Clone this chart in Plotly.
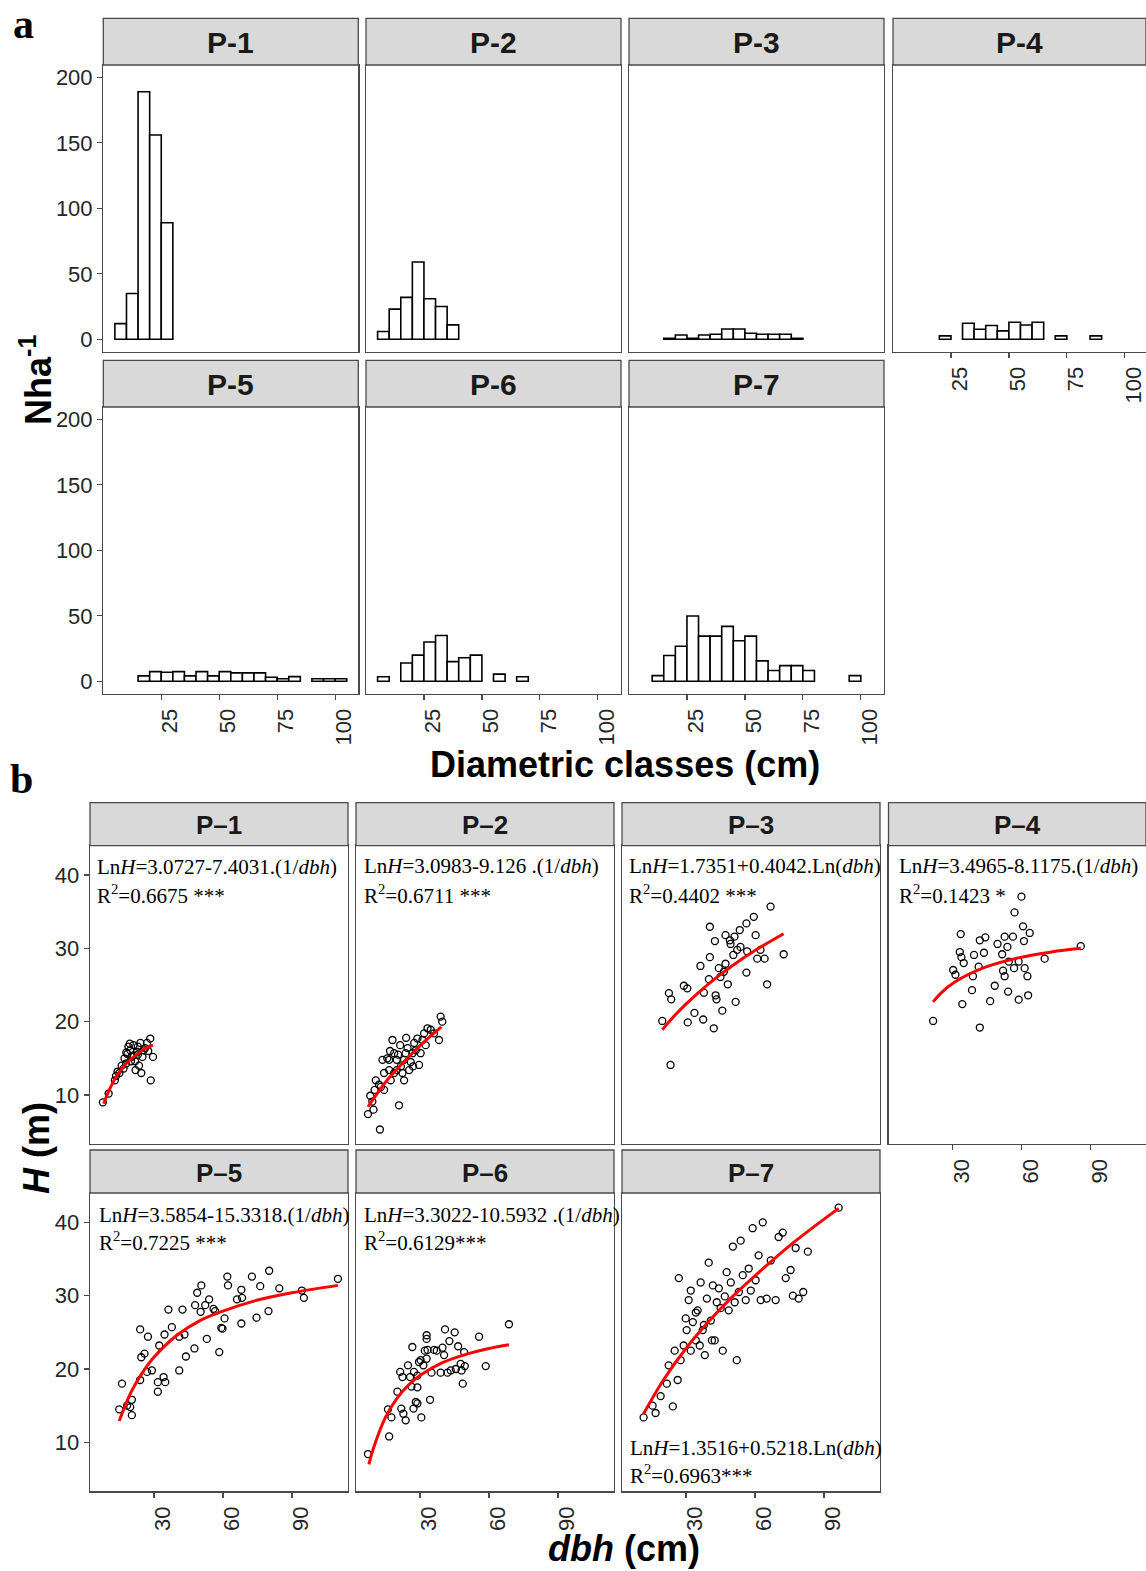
import plotly.graph_objects as go

# ---------------------------------------------------------------- data
PLOTS_A = ["P-1", "P-2", "P-3", "P-4", "P-5", "P-6", "P-7"]
PLOTS_B = ["P–1", "P–2", "P–3", "P–4", "P–5", "P–6", "P–7"]

# (a) diameter-class distribution: 5-cm class centre (cm) and trees per hectare
p1_class = [7.5, 12.5, 17.5, 22.5, 27.5]
p1_nha = [12, 35, 189, 156, 89]
p2_class = [7.5, 12.5, 17.5, 22.5, 27.5, 32.5, 37.5]
p2_nha = [6, 23, 32, 59, 31, 25, 11]
p3_class = [17.5, 22.5, 27.5, 32.5, 37.5, 42.5, 47.5, 52.5, 57.5, 62.5, 67.5, 72.5]
p3_nha = [0.8, 3.3, 0.8, 3.3, 3.8, 7.9, 7.9, 4.6, 3.8, 3.8, 3.8, 0.8]
p4_class = [22.5, 32.5, 37.5, 42.5, 47.5, 52.5, 57.5, 62.5, 72.5, 87.5]
p4_nha = [2.6, 12.3, 7.7, 10.5, 6.4, 13.0, 10.9, 13.0, 2.6, 2.6]
p5_class = [17.5, 22.5, 27.5, 32.5, 37.5, 42.5, 47.5, 52.5, 57.5, 62.5, 67.5,
            72.5, 77.5, 82.5, 92.5, 97.5, 102.5]
p5_nha = [4.1, 7.4, 6.9, 7.4, 4.1, 7.4, 4.1, 7.4, 6.4, 6.4, 6.4, 3.1, 2.0, 3.6,
          2.0, 2.0, 2.0]
p6_class = [7.5, 17.5, 22.5, 27.5, 32.5, 37.5, 42.5, 47.5, 57.5, 67.5]
p6_nha = [3.5, 14, 20, 30, 35, 15, 18, 20, 5.5, 3.5]
p7_class = [12.5, 17.5, 22.5, 27.5, 32.5, 37.5, 42.5, 47.5, 52.5, 57.5, 62.5,
            67.5, 72.5, 77.5, 97.5]
p7_nha = [4.3, 19.7, 26.8, 49.8, 34.5, 34.5, 41.9, 30.9, 34.5, 15.6, 8.2, 12,
          12, 8.2, 4.3]

# (b) height-diameter observations: dbh (cm) and H (m)
p1_dbh = [7.8, 10.3, 13.0, 13.5, 14.2, 15.0, 16.0, 16.8, 17.2, 17.9, 18.5, 18.9,
          19.5, 19.7, 20.3, 21.1, 21.1, 21.8, 22.0, 22.6, 23.0, 23.5, 24.1, 24.5,
          25.0, 25.5, 26.2, 27.0, 27.5, 28.4, 28.6, 29.6, 20.0, 23.0, 18.0]
p1_h = [9.0, 10.2, 12.0, 12.6, 13.2, 13.0, 14.0, 13.6, 15.0, 14.3, 15.6, 16.6,
        17.0, 16.1, 15.2, 15.4, 16.8, 14.6, 13.4, 15.9, 16.6, 14.0, 17.1, 13.0,
        15.2, 16.1, 16.4, 17.1, 16.0, 17.7, 12.0, 15.2, 14.6, 15.5, 15.8]
p2_dbh = [7.4, 9.8, 12.6, 8.4, 10.3, 10.8, 13.0, 13.7, 14.4, 15.8, 16.6, 17.3,
          18.05, 18.8, 19.9, 20.9, 21.4, 21.7, 22.4, 23.1, 23.8, 24.6, 25.3, 26.0,
          26.8, 27.5, 28.2, 28.9, 29.6, 30.3, 31.1, 31.8, 32.5, 33.3, 34.7, 36.1,
          38.3, 39.0, 39.7, 14.4, 18.8, 23.1, 19.9, 16.6, 12.2, 9.3, 17.0, 20.5,
          24.0, 27.0]
p2_h = [7.4, 8.0, 5.3, 9.9, 10.7, 12.0, 11.1, 14.8, 13.0, 15.0, 13.4, 12.0,
        17.5, 15.7, 14.8, 8.6, 16.8, 13.9, 13.0, 12.0, 15.7, 16.4, 13.4, 14.5,
        15.7, 17.1, 16.1, 17.7, 14.1, 15.7, 17.5, 18.4, 16.8, 19.1, 18.9, 18.4,
        17.5, 20.7, 20.0, 10.7, 13.0, 14.8, 13.4, 14.8, 11.4, 9.1, 16.0, 15.5,
        17.8, 13.9]
p3_dbh = [19.7, 23.3, 22.6, 23.6, 29.1, 30.6, 30.8, 33.7, 36.3, 37.5, 37.8, 40.0,
          40.4, 40.4, 42.1, 42.6, 42.9, 43.3, 44.3, 45.0, 45.8, 46.5, 47.2, 47.2,
          48.2, 49.1, 49.4, 50.6, 51.1, 51.6, 52.3, 53.4, 53.7, 56.3, 56.3, 56.6,
          59.5, 60.3, 61.0, 62.4, 64.2, 65.3, 66.8, 72.5]
p3_h = [20.1, 14.1, 23.9, 23.05, 24.9, 24.55, 19.9, 21.2, 27.6, 20.3, 23.95, 25.8,
        32.95, 28.8, 19.1, 31.0, 23.6, 23.05, 27.3, 26.1, 21.5, 26.8, 31.8, 27.9,
        25.1, 31.1, 30.6, 29.1, 31.6, 22.7, 29.8, 32.5, 30.2, 33.4, 26.7, 29.6,
        34.3, 31.8, 28.6, 29.8, 28.6, 25.1, 35.7, 29.2]
p4_dbh = [21.6, 30.3, 31.3, 33.6, 33.2, 33.9, 34.9, 34.3, 38.5, 38.9, 39.4, 41.4,
          41.9, 41.9, 43.7, 44.3, 46.4, 48.4, 49.6, 51.6, 52.0, 52.7, 52.7, 53.9,
          54.2, 54.5, 56.3, 57.0, 56.8, 58.8, 58.8, 60.0, 60.7, 61.1, 61.4, 62.6,
          62.9, 63.6, 70.1, 85.8]
p4_h = [20.1, 27.05, 26.4, 31.95, 29.5, 28.8, 28.0, 22.4, 24.3, 26.2, 29.1, 27.5,
        19.2, 31.1, 29.4, 31.5, 22.8, 24.9, 30.6, 29.2, 26.95, 31.6, 26.2, 30.2,
        24.1, 28.2, 31.6, 34.9, 27.3, 28.2, 23.0, 37.05, 33.0, 31.0, 27.3, 26.2,
        23.6, 32.1, 28.6, 30.3]
p5_dbh = [14.9, 16.1, 18.3, 19.7, 20.4, 20.4, 24.0, 24.0, 24.5, 25.9, 27.0, 27.4,
          29.1, 31.7, 31.7, 32.3, 34.2, 34.9, 34.6, 36.3, 37.8, 41.0, 41.0, 42.4,
          43.3, 43.9, 47.6, 47.9, 48.8, 50.3, 50.6, 52.3, 53.0, 54.0, 55.9, 56.6,
          58.4, 59.3, 59.8, 60.7, 61.9, 62.2, 66.1, 68.0, 68.3, 68.0, 72.6, 74.6,
          76.2, 79.8, 80.1, 84.5, 94.3, 95.2, 110.0]
p5_h = [14.5, 18.0, 15.0, 14.8, 15.8, 13.7, 25.4, 18.5, 21.6, 22.1, 19.6, 24.4,
        19.8, 18.2, 16.9, 23.2, 18.9, 18.2, 24.7, 28.1, 25.7, 24.4, 19.8, 28.1,
        24.7, 21.7, 22.8, 28.7, 30.4, 27.8, 31.4, 28.7, 24.1, 29.5, 28.2, 27.9,
        22.3, 25.6, 25.5, 26.9, 32.6, 31.4, 29.5, 30.8, 29.7, 26.2, 32.6, 27.0,
        31.3, 27.9, 33.4, 31.0, 30.7, 29.7, 32.3]
p6_dbh = [7.4, 16.6, 16.1, 17.6, 20.2, 21.4, 21.9, 22.8, 23.8, 24.8, 25.7, 26.7,
          27.2, 27.4, 28.2, 28.9, 28.9, 29.6, 30.3, 30.6, 31.5, 32.1, 32.9, 32.9,
          32.9, 33.3, 34.4, 35.0, 36.1, 37.3, 39.0, 39.8, 40.5, 40.9, 42.0, 42.8,
          43.4, 45.1, 45.6, 46.6, 47.7, 48.1, 48.6, 49.2, 49.5, 55.7, 58.6, 68.7,
          22.4, 28.9, 26.3]
p6_h = [8.4, 10.8, 14.5, 13.4, 16.9, 19.6, 14.6, 13.9, 13.0, 20.5, 18.9, 23.0,
        14.6, 19.6, 15.5, 17.5, 19.1, 20.95, 21.2, 13.4, 20.5, 22.5, 24.6, 24.1,
        21.4, 22.6, 15.8, 19.5, 22.6, 22.5, 19.5, 22.9, 21.9, 25.4, 19.5, 23.8,
        19.8, 25.0, 20.0, 23.1, 20.7, 19.8, 18.0, 22.3, 20.4, 24.4, 20.4, 26.1,
        18.9, 15.3, 17.6]
p7_dbh = [11.6, 16.8, 15.5, 19.0, 21.7, 22.5, 24.3, 25.1, 26.4, 26.9, 27.7, 29.0,
          29.9, 30.3, 31.2, 32.1, 32.1, 33.0, 34.3, 34.3, 35.1, 36.0, 36.4, 37.3,
          37.8, 38.2, 39.1, 39.9, 40.8, 41.3, 41.7, 42.5, 43.4, 44.3, 45.1, 46.0,
          46.9, 47.7, 48.6, 49.5, 50.4, 51.2, 52.1, 53.0, 53.8, 54.7, 56.0, 57.3,
          58.2, 59.0, 60.3, 61.6, 62.5, 63.4, 65.1, 66.9, 69.0, 70.3, 72.1, 73.4,
          75.5, 77.7, 96.4, 79.0, 81.0, 76.5, 83.0]
p7_h = [13.4, 14.0, 15.0, 16.3, 18.0, 20.5, 14.9, 22.5, 18.5, 32.4, 21.2, 23.2,
        26.9, 25.3, 29.4, 22.5, 30.7, 26.4, 23.9, 27.7, 28.0, 23.2, 31.8, 25.3,
        26.0, 21.9, 29.6, 34.5, 26.6, 23.9, 31.4, 23.9, 29.1, 31.0, 28.3, 22.5,
        29.9, 33.2, 28.0, 31.8, 36.7, 29.1, 21.2, 30.5, 37.5, 32.8, 29.4, 33.7,
        30.7, 39.2, 32.1, 35.5, 29.4, 40.0, 29.6, 34.8, 29.4, 38.0, 38.6, 32.4,
        33.5, 36.5, 42.0, 29.6, 30.5, 30.0, 36.0]

# fitted height-diameter curves
p1_fit_dbh = [8.2, 10, 14, 18, 22, 26, 29.6]
p1_fit_h = [8.8, 10.3, 12.7, 14.3, 15.4, 16.3, 16.8]
p2_fit_dbh = [7.4, 15.8, 23.1, 31.1, 39.3]
p2_fit_h = [8.4, 12.05, 14.55, 17.05, 19.3]
p3_fit_dbh = [19.7, 25, 30, 40, 50, 60, 72.5]
p3_fit_h = [18.9, 20.8, 22.4, 25.2, 27.6, 29.7, 32.0]
p4_fit_dbh = [21.6, 25, 31, 44, 58.5, 73, 85.8]
p4_fit_h = [22.7, 23.9, 25.4, 27.4, 28.7, 29.5, 30.0]
p5_fit_dbh = [14.9, 20, 25, 30, 40, 50, 60, 75, 90, 110]
p5_fit_h = [12.9, 16.8, 19.5, 21.6, 24.6, 26.6, 27.9, 29.4, 30.4, 31.4]
p6_fit_dbh = [7.8, 10, 15, 20, 25, 30, 40, 50, 60, 68.7]
p6_fit_h = [7.0, 9.4, 13.4, 16.0, 17.8, 19.1, 20.9, 22.0, 22.8, 23.3]
p7_fit_dbh = [11.6, 20, 30, 40, 50, 60, 75, 96.4]
p7_fit_h = [13.9, 18.4, 22.8, 26.5, 29.8, 32.7, 36.8, 41.9]

EQ_LINE1 = [
    "Ln<i>H</i>=3.0727-7.4031.(1/<i>dbh</i>)",
    "Ln<i>H</i>=3.0983-9.126 .(1/<i>dbh</i>)",
    "Ln<i>H</i>=1.7351+0.4042.Ln(<i>dbh</i>)",
    "Ln<i>H</i>=3.4965-8.1175.(1/<i>dbh</i>)",
    "Ln<i>H</i>=3.5854-15.3318.(1/<i>dbh</i>)",
    "Ln<i>H</i>=3.3022-10.5932 .(1/<i>dbh</i>)",
    "Ln<i>H</i>=1.3516+0.5218.Ln(<i>dbh</i>)",
]
EQ_LINE2 = [
    "R<sup>2</sup>=0.6675 ***",
    "R<sup>2</sup>=0.6711 ***",
    "R<sup>2</sup>=0.4402 ***",
    "R<sup>2</sup>=0.1423 *",
    "R<sup>2</sup>=0.7225 ***",
    "R<sup>2</sup>=0.6129***",
    "R<sup>2</sup>=0.6963***",
]

A_XTICKS = [25, 50, 75, 100]
A_YTICKS = [0, 50, 100, 150, 200]
B_XTICKS = [30, 60, 90]
B_YTICKS = [10, 20, 30, 40]

a_class = [p1_class, p2_class, p3_class, p4_class, p5_class, p6_class, p7_class]
a_nha = [p1_nha, p2_nha, p3_nha, p4_nha, p5_nha, p6_nha, p7_nha]
b_dbh = [p1_dbh, p2_dbh, p3_dbh, p4_dbh, p5_dbh, p6_dbh, p7_dbh]
b_h = [p1_h, p2_h, p3_h, p4_h, p5_h, p6_h, p7_h]
fit_dbh = [p1_fit_dbh, p2_fit_dbh, p3_fit_dbh, p4_fit_dbh, p5_fit_dbh, p6_fit_dbh, p7_fit_dbh]
fit_h = [p1_fit_h, p2_fit_h, p3_fit_h, p4_fit_h, p5_fit_h, p6_fit_h, p7_fit_h]

# ---------------------------------------------------------------- geometry (page pixels)
FW = 1146
FH = 1571


def fx(px):
    return px / FW


def fy(py):
    return 1 - py / FH


SANS = "Liberation Sans, Arial, sans-serif"
SERIF = "Liberation Serif, Times New Roman, serif"
BORDER = "#4a4a4a"
TICKFONT = dict(family=SANS, size=22, color="#262626")

A_LEFTS = [103.3, 366.0, 629.0, 893.0]
A_W = 255.0
A_ROWS = [(18.3, 65.0, 351.7), (360.3, 407.0, 693.7)]
A_PX_PER = 2.318
A_YR = [-9.47, 209.4]

B_LEFTS = [90.0, 356.0, 622.0, 888.5]
B_W = 258.0
B_ROWS = [(802.7, 845.7, 1144.0), (1150.0, 1193.0, 1491.3)]
B_PX_PER = 2.3
B_X0 = 2.2
B_YR = [3.32, 44.0]

fig = go.Figure()
layout = {}
shapes = []
annotations = []


def axis_names(n):
    xs = "x" if n == 1 else f"x{n}"
    ys = "y" if n == 1 else f"y{n}"
    xk = "xaxis" if n == 1 else f"xaxis{n}"
    yk = "yaxis" if n == 1 else f"yaxis{n}"
    return xs, ys, xk, yk


def add_panel(n, left, right, strip_top, top, bottom, xr, yr, xticks, yticks,
              show_x, show_y, strip_size, label):
    xs, ys, xk, yk = axis_names(n)
    common = dict(showline=True, mirror=True, linecolor=BORDER, linewidth=1.3,
                  showgrid=False, zeroline=False, tickfont=TICKFONT,
                  ticklen=5, tickwidth=1.2, tickcolor=BORDER)
    layout[xk] = dict(common, domain=[fx(left), min(fx(right), 1.0)], range=xr,
                      anchor=ys, tickvals=xticks,
                      ticks="outside" if show_x else "",
                      showticklabels=show_x, tickangle=-90, ticklabelshift=9)
    layout[yk] = dict(common, domain=[fy(bottom), fy(top)], range=yr,
                      anchor=xs, tickvals=yticks,
                      ticks="outside" if show_y else "",
                      showticklabels=show_y)
    shapes.append(dict(type="rect", xref="paper", yref="paper",
                       x0=fx(left), x1=min(fx(right), 1.0),
                       y0=fy(top), y1=fy(strip_top),
                       fillcolor="#D9D9D9", line=dict(color=BORDER, width=1.3),
                       layer="above"))
    annotations.append(dict(text=f"<b>{label}</b>", xref="paper", yref="paper",
                            x=fx((left + min(right, 1146)) / 2),
                            y=fy((strip_top + top) / 2 + 1),
                            xanchor="center", yanchor="middle", showarrow=False,
                            font=dict(family=SANS, size=strip_size, color="#1a1a1a")))
    return xs, ys


# ---- panel a
for k in range(7):
    row, col = divmod(k, 4)
    left = A_LEFTS[col]
    right = min(left + A_W, 1146)
    st, top, bot = A_ROWS[row]
    xr = [0, (right - left) / A_PX_PER]
    xs, ys = add_panel(k + 1, left, right, st, top, bot, xr, A_YR, A_XTICKS,
                       A_YTICKS, k >= 3, col == 0, 30, PLOTS_A[k])
    fig.add_trace(go.Bar(x=a_class[k], y=a_nha[k], width=5,
                         marker=dict(color="white", line=dict(color="black", width=1.6)),
                         xaxis=xs, yaxis=ys, showlegend=False, hoverinfo="x+y"))

# ---- panel b
EQ_POS = [(95.7, 874.0, 903.0), (362.7, 873.5, 903.5), (628.3, 873.0, 903.5),
          (897.7, 873.0, 903.5), (97.7, 1222.0, 1250.5), (362.7, 1222.0, 1250.5),
          (628.5, 1455.0, 1483.0)]
for k in range(7):
    row, col = divmod(k, 4)
    left = B_LEFTS[col]
    right = min(left + B_W, 1146)
    st, top, bot = B_ROWS[row]
    xr = [B_X0, B_X0 + (right - left) / B_PX_PER]
    xs, ys = add_panel(k + 8, left, right, st, top, bot, xr, B_YR, B_XTICKS,
                       B_YTICKS, k >= 3, col == 0, 26, PLOTS_B[k])
    fig.add_trace(go.Scatter(x=b_dbh[k], y=b_h[k], mode="markers",
                             marker=dict(symbol="circle-open", size=7, color="black",
                                         line=dict(width=1.3, color="black")),
                             xaxis=xs, yaxis=ys, showlegend=False))
    fig.add_trace(go.Scatter(x=fit_dbh[k], y=fit_h[k], mode="lines",
                             line=dict(color="#FF0000", width=3, shape="spline"),
                             xaxis=xs, yaxis=ys, showlegend=False))
    ex, b1, b2 = EQ_POS[k]
    for txt, base in ((EQ_LINE1[k], b1), (EQ_LINE2[k], b2)):
        annotations.append(dict(text=txt, xref="paper", yref="paper",
                                x=fx(ex), y=fy(base + 5.5), xanchor="left",
                                yanchor="bottom", showarrow=False, borderpad=0,
                                font=dict(family=SERIF, size=21, color="black")))

# ---- titles and panel letters
TITLE_FONT = dict(family=SANS, size=36, color="black")
annotations += [
    dict(text="<b>Nha<sup>-1</sup></b>", x=fx(36), y=fy(380), textangle=-90),
    dict(text="<b>Diametric classes (cm)</b>", x=fx(625), y=fy(765)),
    dict(text="<b><i>H</i> (m)</b>", x=fx(36), y=fy(1148), textangle=-90),
    dict(text="<b><i>dbh</i> (cm)</b>", x=fx(624), y=fy(1548)),
]
for a in annotations[-4:]:
    a.update(xref="paper", yref="paper", xanchor="center", yanchor="middle",
             showarrow=False, font=TITLE_FONT)
for letter, (lx, ly) in (("a", (23, 24)), ("b", (21, 779))):
    annotations.append(dict(text=f"<b>{letter}</b>", x=fx(lx), y=fy(ly),
                            xref="paper", yref="paper", xanchor="center",
                            yanchor="middle", showarrow=False,
                            font=dict(family=SERIF, size=42, color="black")))

fig.update_layout(width=FW, height=FH, autosize=False,
                  margin=dict(l=0, r=0, t=0, b=0, pad=0),
                  paper_bgcolor="white", plot_bgcolor="white",
                  shapes=shapes, annotations=annotations, **layout)

fig.write_html("out.html",
               config={"displayModeBar": False, "staticPlot": True},
               post_script="document.body.style.margin='0';"
                           "document.body.style.overflow='hidden';")
